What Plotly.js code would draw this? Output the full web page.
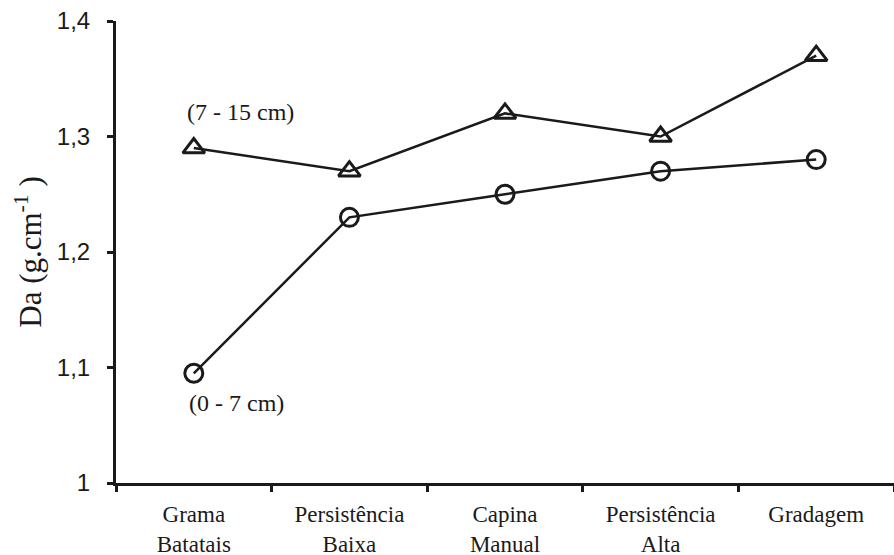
<!DOCTYPE html>
<html>
<head>
<meta charset="utf-8">
<script src="https://cdn.plot.ly/plotly-3.0.1.min.js"></script>
<style>html,body{margin:0;padding:0;background:#fff;}#chart{width:894px;height:555px;}</style>
</head>
<body>
<div id="chart"></div>
<script>
const categories = ["Grama<br>Batatais", "Persistência<br>Baixa", "Capina<br>Manual", "Persistência<br>Alta", "Gradagem"];
const depth7to15 = [1.29, 1.27, 1.32, 1.30, 1.37];
const depth0to7 = [1.095, 1.23, 1.25, 1.27, 1.28];
const yTickVals = [1, 1.1, 1.2, 1.3, 1.4];
const yTickText = ["1", "1,1", "1,2", "1,3", "1,4"];
const labelUpper = "(7 - 15 cm)";
const labelLower = "(0 - 7 cm)";

const ink = "#1a1a1a";
const serif = "'Liberation Serif', 'Times New Roman', serif";
const sans = "'Liberation Sans', Arial, sans-serif";

const traces = [
  {
    x: categories, y: depth7to15, type: "scatter", mode: "lines+markers",
    line: {color: ink, width: 2.5},
    marker: {symbol: "triangle-up-open", size: 19, color: ink, line: {width: 3, color: ink}},
    showlegend: false, hoverinfo: "skip"
  },
  {
    x: categories, y: depth0to7, type: "scatter", mode: "lines+markers",
    line: {color: ink, width: 2.5},
    marker: {symbol: "circle-open", size: 18, color: ink, line: {width: 3, color: ink}},
    showlegend: false, hoverinfo: "skip"
  }
];

const layout = {
  width: 894, height: 555,
  margin: {l: 116, r: 0, t: 21, b: 72, pad: 0},
  paper_bgcolor: "#fff", plot_bgcolor: "#fff",
  xaxis: {
    type: "category", range: [-0.5, 4.5],
    showline: true, linecolor: ink, linewidth: 3,
    ticks: "outside", tickson: "boundaries", ticklen: 6, tickwidth: 3, tickcolor: ink,
    ticklabelstandoff: 8,
    showgrid: false, zeroline: false,
    tickfont: {family: serif, size: 23, color: ink},
    fixedrange: true
  },
  yaxis: {
    range: [1, 1.4], tickvals: yTickVals, ticktext: yTickText,
    showline: true, linecolor: ink, linewidth: 3,
    ticks: "outside", ticklen: 6, tickwidth: 3, tickcolor: ink,
    ticklabelstandoff: 12,
    showgrid: false, zeroline: false,
    tickfont: {family: sans, size: 24, color: ink},
    title: {text: "Da (g.cm<sup>-1</sup> )", font: {family: serif, size: 31, color: ink}, standoff: 6},
    fixedrange: true
  },
  annotations: [
    {x: 0, y: 1.321, xref: "x", yref: "y", text: labelUpper, showarrow: false,
     xanchor: "left", yanchor: "middle", xshift: -9, font: {family: serif, size: 24, color: ink}},
    {x: 0, y: 1.069, xref: "x", yref: "y", text: labelLower, showarrow: false,
     xanchor: "left", yanchor: "middle", xshift: -7, font: {family: serif, size: 24, color: ink}}
  ]
};

Plotly.newPlot("chart", traces, layout, {displayModeBar: false, staticPlot: true});
</script>
</body>
</html>
